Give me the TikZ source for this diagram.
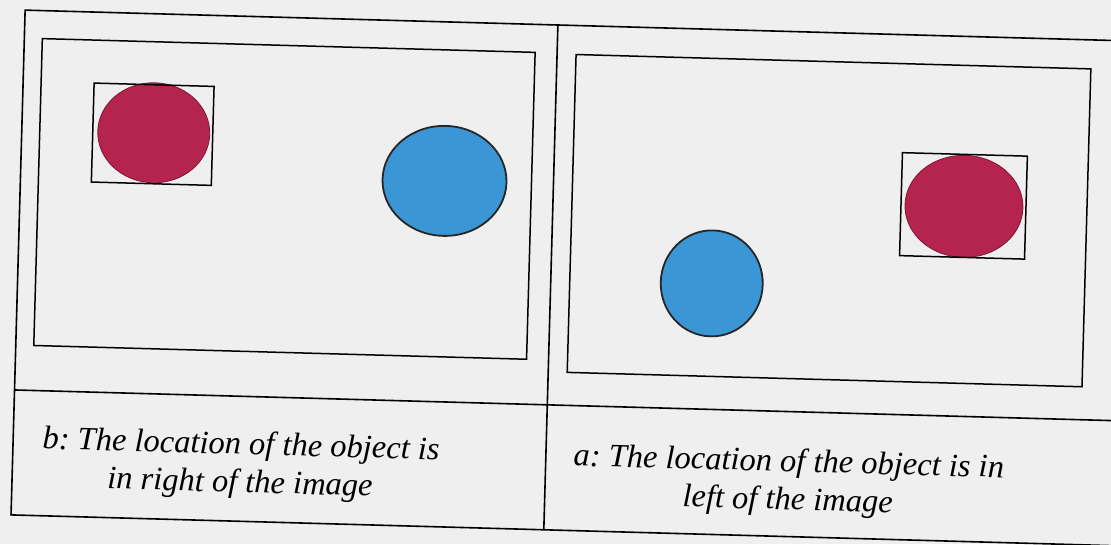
\documentclass[tikz,border=0pt]{standalone}
\usepackage{fontspec}
\newfontfamily\capfont{Liberation Serif Italic}
\definecolor{paper}{HTML}{EFEFEF}
\definecolor{objred}{HTML}{B5234F}
\definecolor{objblue}{HTML}{3A96D4}
\frenchspacing
\begin{document}
\begin{tikzpicture}[x=1pt,y=-1pt,
  frame/.style={draw=black,line width=1.6pt},
  bbox/.style={draw=black,line width=1.5pt},
  redobj/.style={fill=objred,draw=objred!70!black,line width=0.8pt},
  blueobj/.style={fill=objblue,draw=black!85,line width=1.8pt},
  caption/.style={font=\capfont\fontsize{32.5}{38}\selectfont,align=center,inner sep=0pt}]
\useasboundingbox (0,0) rectangle (1111,544);
\fill[paper] (0,0) rectangle (1111,544);
\clip (0,0) rectangle (1111,544);
\begin{scope}[rotate around={-1.6:(555,272)}]
  % table
  \draw[frame] (18,25) rectangle (1125,530);
  \draw[frame] (18,405) -- (1125,405);
  \draw[frame] (551,25) -- (551,530);
  % left image
  \draw[bbox] (36,53) rectangle (529,360);
  \draw[redobj] (150,144) ellipse [x radius=56, y radius=50];
  \draw[bbox] (89,96) rectangle (209,195);
  \draw[blueobj] (442,184) ellipse [x radius=62, y radius=55];
  % right image
  \draw[bbox] (570,54) rectangle (1085,372);
  \draw[redobj] (962,195) ellipse [x radius=59, y radius=51];
  \draw[bbox] (899,143) rectangle (1024,246);
  \draw[blueobj] (712,279) ellipse [x radius=51, y radius=53];
  % captions
  \node[caption,rotate=-1.6] (capb) at (246,474) {b: The location of the object is\\in right of the image};
  \node[caption,rotate=-1.6] (capa) at (794,476) {a: The location of the object is in\\left of the image};
\end{scope}
\end{tikzpicture}
\end{document}
